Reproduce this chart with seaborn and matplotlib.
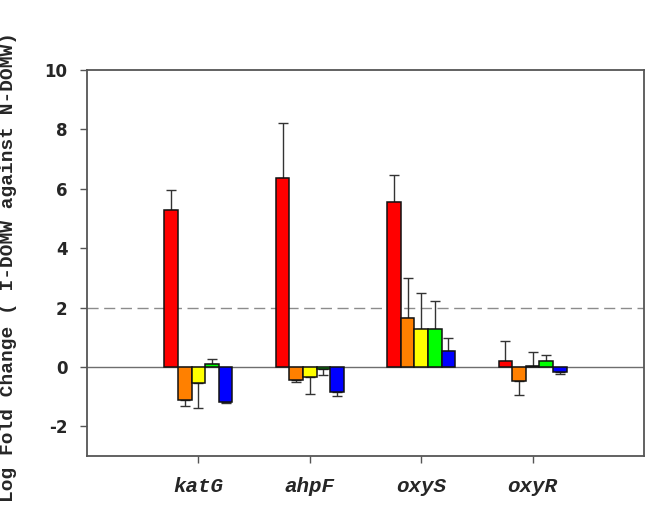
import numpy as np
import pandas as pd
import matplotlib
matplotlib.use("Agg")
import matplotlib.pyplot as plt
import seaborn as sns

# Genes on the x axis and the five treatment series (one colour each)
genes = ["katG", "ahpF", "oxyS", "oxyR"]
series = ["S1", "S2", "S3", "S4", "S5"]
colors = ["#FF0000", "#FF8000", "#FFFF00", "#00FF00", "#0000FF"]

# Log fold change per series, listed in gene order
s1_vals = [5.27, 6.35, 5.54, 0.20]
s2_vals = [-1.12, -0.43, 1.64, -0.49]
s3_vals = [-0.54, -0.33, 1.28, 0.02]
s4_vals = [0.10, -0.08, 1.28, 0.21]
s5_vals = [-1.19, -0.86, 0.52, -0.18]

# Standard errors (drawn away from zero only)
s1_err = [0.69, 1.86, 0.92, 0.66]
s2_err = [0.18, 0.09, 1.36, 0.45]
s3_err = [0.85, 0.58, 1.21, 0.48]
s4_err = [0.17, 0.20, 0.94, 0.19]
s5_err = [0.02, 0.13, 0.47, 0.06]

yticks = [-2, 0, 2, 4, 6, 8, 10]
ylabel = "Log Fold Change ( I-DOMW against N-DOMW)"

values = [s1_vals, s2_vals, s3_vals, s4_vals, s5_vals]
errors = [s1_err, s2_err, s3_err, s4_err, s5_err]

df = pd.DataFrame({
    "gene": np.repeat([genes], len(series), axis=0).ravel(),
    "series": np.repeat(series, len(genes)),
    "value": np.concatenate(values),
})

sns.set_style("white")
fig = plt.figure(figsize=(6.66, 5.29), dpi=100)
ax = fig.add_axes([0.1306, 0.138, 0.8364, 0.7297])

ax.axhline(2, color="#8c8c8c", lw=1.0, ls=(0, (8, 4)), zorder=0)
ax.axhline(0, color="#6e6e6e", lw=1.0, zorder=0)

sns.barplot(data=df, x="gene", y="value", hue="series", order=genes,
            hue_order=series, palette=colors, width=0.61, gap=0,
            edgecolor="#111111", linewidth=1.1, saturation=1,
            errorbar=None, legend=False, ax=ax, zorder=2)

# One-sided error bars at the centre of each bar
for cont, vals, errs in zip(ax.containers, values, errors):
    for patch, v, e in zip(cont.patches, vals, errs):
        xc = patch.get_x() + patch.get_width() / 2
        yerr = [[0], [e]] if v >= 0 else [[e], [0]]
        ax.errorbar(xc, v, yerr=yerr, fmt="none", ecolor="#333333",
                    elinewidth=1.0, capsize=3.5, capthick=1.0, zorder=1)

ax.set_xlim(-1.0, 4.0)
ax.set_ylim(-3, 10)
ax.set_yticks(yticks)
ax.set_yticklabels([str(t) for t in yticks], fontsize=12,
                   fontweight="bold", family="DejaVu Sans")
ax.set_xticks(range(len(genes)))
ax.set_xticklabels(genes, fontsize=15, fontweight="bold", style="italic",
                   family="Liberation Mono")
ax.set_xlabel("")
ax.set_ylabel(ylabel, fontsize=14, fontweight="bold", family="Liberation Mono")
ax.yaxis.set_label_coords(-0.125, 0.49)

ax.tick_params(axis="both", direction="out", length=5, width=1.0,
               color="#555555", left=True, bottom=True)
ax.tick_params(axis="y", pad=9)
ax.tick_params(axis="x", pad=10)
for sp in ax.spines.values():
    sp.set_color("#555555")
    sp.set_linewidth(1.3)

fig.savefig("out.png", dpi=100, facecolor="white")
